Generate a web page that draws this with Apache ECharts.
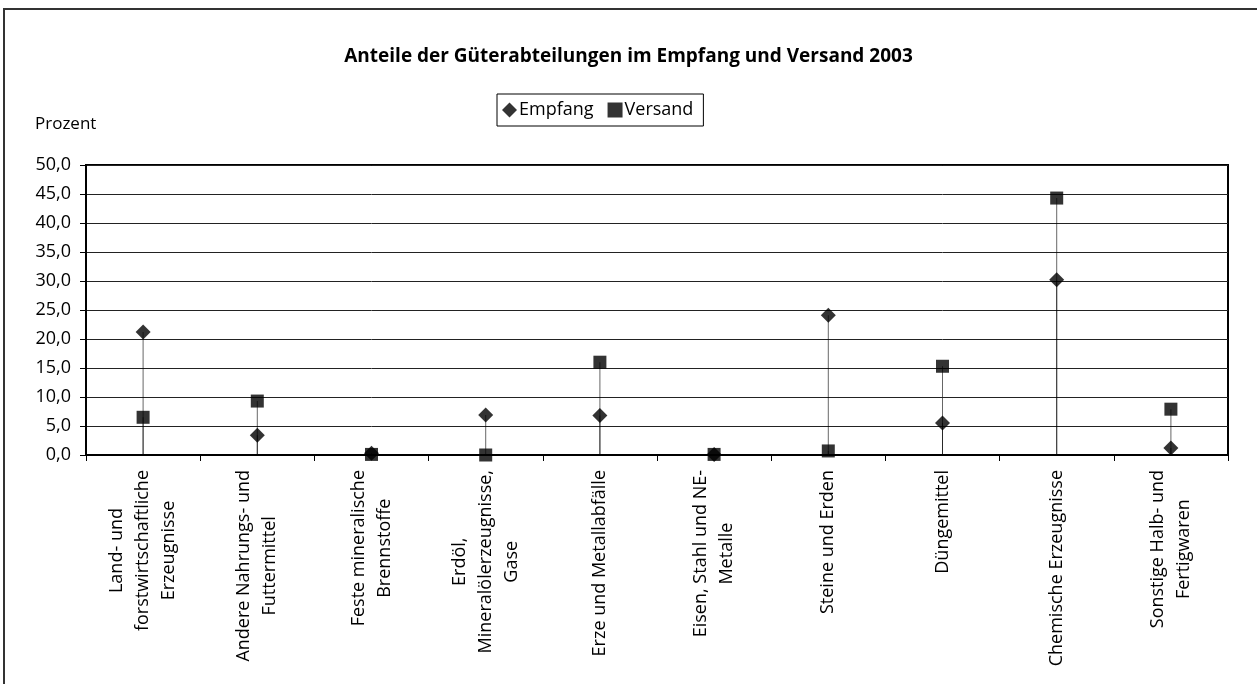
<!DOCTYPE html>
<html>
<head>
<meta charset="utf-8">
<script src="https://cdn.jsdelivr.net/npm/echarts@6/dist/echarts.min.js"></script>
<style>
  html, body { margin: 0; padding: 0; background: #fff; }
  #main { width: 1257px; height: 684px; }
</style>
</head>
<body>
<div id="main"></div>
<script>
// Kategorien (Güterabteilungen)
var categories = [
  "Land- und\nforstwirtschaftliche\nErzeugnisse",
  "Andere Nahrungs- und\nFuttermittel",
  "Feste mineralische\nBrennstoffe",
  "Erdöl,\nMineralölerzeugnisse,\nGase",
  "Erze und Metallabfälle",
  "Eisen, Stahl und NE-\nMetalle",
  "Steine und Erden",
  "Düngemittel",
  "Chemische Erzeugnisse",
  "Sonstige Halb- und\nFertigwaren"
];
var empfang = [21.2, 3.4, 0.3, 6.9, 6.8, 0.1, 24.1, 5.5, 30.2, 1.2];
var versand = [6.5, 9.3, 0.1, 0.0, 16.0, 0.1, 0.7, 15.3, 44.3, 7.9];
var yTicks = { min: 0, max: 50, interval: 5 };

var font = "'Open Sans', sans-serif";
var myChart = echarts.init(document.getElementById("main"));

myChart.setOption({
  animation: false,
  textStyle: { fontFamily: font, color: "#000" },
  title: {
    text: "Anteile der Güterabteilungen im Empfang und Versand 2003",
    left: "center",
    top: 42,
    textStyle: { fontSize: 19, fontWeight: "bold", fontFamily: font, color: "#000" },
  },
  legend: {
    data: ["Empfang", "Versand"],
    left: 497,
    top: 94,
    padding: [7, 10, 7, 5],
    itemGap: 14,
    itemWidth: 15,
    itemHeight: 15,
    borderColor: "#000",
    borderWidth: 1,
    textStyle: { fontSize: 18, fontFamily: font, color: "#000", padding: [0, 0, 0, -3] },
  },
  graphic: [
    {
      type: "rect",
      shape: { x: 4, y: 9, width: 1400, height: 800 },
      style: { fill: "none", stroke: "#333", lineWidth: 2 },
      silent: true,
    },
    {
      type: "text",
      left: 35,
      top: 116,
      style: { text: "Prozent", fontSize: 17, fontFamily: font, fill: "#000" },
    },
  ],
  grid: {
    left: 86,
    top: 165,
    width: 1142,
    height: 290,
    containLabel: false,
    outerBoundsMode: "none",
    show: true,
    borderColor: "#000",
    borderWidth: 2,
  },
  xAxis: {
    type: "category",
    data: categories,
    boundaryGap: true,
    axisLine: { lineStyle: { color: "#000", width: 2 } },
    axisTick: { show: true, interval: 0, length: 6, lineStyle: { color: "#000" } },
    axisLabel: {
      interval: 0,
      rotate: 90,
      margin: 15,
      fontSize: 18,
      lineHeight: 26,
      color: "#000",
      formatter: function (value) {
        return "{c|" + value + "}";
      },
      rich: { c: { align: "center", fontSize: 18, lineHeight: 26, fontFamily: font, color: "#000" } },
    },
  },
  yAxis: {
    type: "value",
    min: yTicks.min,
    max: yTicks.max,
    interval: yTicks.interval,
    axisLine: { show: true, lineStyle: { color: "#000", width: 2 } },
    axisTick: { show: true, length: 6, lineStyle: { color: "#000" } },
    axisLabel: {
      fontSize: 18,
      color: "#000",
      margin: 15,
      formatter: function (v) {
        return v.toFixed(1).replace(".", ",");
      },
    },
    splitLine: { show: true, lineStyle: { color: "#222", width: 1 } },
  },
  series: [
    // Lotlinien zur Achse
    {
      type: "bar",
      data: empfang,
      barWidth: 1,
      barGap: "-100%",
      silent: true,
      itemStyle: { color: "rgba(0,0,0,0.6)" },
    },
    {
      type: "bar",
      data: versand,
      barWidth: 1,
      barGap: "-100%",
      silent: true,
      itemStyle: { color: "rgba(0,0,0,0.6)" },
    },
    {
      name: "Empfang",
      type: "scatter",
      symbol: "diamond",
      symbolSize: 15,
      data: empfang,
      itemStyle: { color: "#000" },
      z: 5,
    },
    {
      name: "Versand",
      type: "scatter",
      symbol: "rect",
      symbolSize: 13,
      data: versand,
      itemStyle: { color: "#000" },
      z: 5,
    },
  ],
});
</script>
</body>
</html>
